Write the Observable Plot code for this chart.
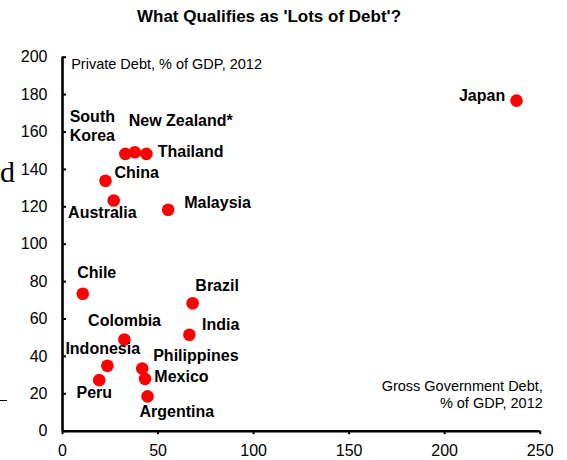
<!DOCTYPE html>
<html>
<head>
<meta charset="utf-8">
<script src="https://cdn.jsdelivr.net/npm/d3@7"></script>
<script src="https://cdn.jsdelivr.net/npm/@observablehq/plot@0.6"></script>
<style>
  body { margin: 0; background: #fff; font-family: "Liberation Sans", Arial, sans-serif; color: #000; }
  #wrap { position: relative; width: 567px; height: 460px; overflow: hidden; background: #fff; }
  #title { width: 538px; height: 34px; line-height: 34px; text-align: center; font-weight: bold; font-size: 17px; color: #000; }
  #chart svg { display: block; }
  .art-d { position: absolute; left: 0px; top: 157px; font-family: "Liberation Serif", "Times New Roman", serif; font-size: 30px; line-height: 30px; color: #000; }
  .art-dash { position: absolute; left: 0; top: 400px; width: 7px; height: 1px; background: #000; }
</style>
</head>
<body>
<div id="wrap">
  <div id="title">What Qualifies as 'Lots of Debt'?</div>
  <div id="chart"></div>
  <span class="art-d">d</span>
  <div class="art-dash"></div>
</div>
<script>
// ---- Data ----
const countries = ["Japan", "South Korea", "New Zealand*", "Thailand", "China", "Australia", "Malaysia", "Chile", "Brazil", "India", "Colombia", "Indonesia", "Philippines", "Mexico", "Peru", "Argentina"];
const labels = ["Japan", "South\nKorea", "New Zealand*", "Thailand", "China", "Australia", "Malaysia", "Chile", "Brazil", "India", "Colombia", "Indonesia", "Philippines", "Mexico", "Peru", "Argentina"];
const govDebt = [237.6, 32.9, 37.8, 43.9, 22.5, 26.8, 55.3, 10.6, 68.1, 66.4, 32.4, 23.5, 41.7, 43.2, 19.2, 44.5];
const privateDebt = [176.8, 148.3, 149.2, 148.3, 133.9, 123.4, 118.4, 73.5, 68.4, 51.6, 49.0, 35.0, 33.5, 28.0, 27.3, 18.6];
const xTicks = [0, 50, 100, 150, 200, 250];
const yTicks = [0, 20, 40, 60, 80, 100, 120, 140, 160, 180, 200];
const yTitle = "Private Debt, % of GDP, 2012";
const xTitle = "Gross Government Debt,\n% of GDP, 2012";

// ---- Label placement (pixel offsets from each dot) ----
const labelPlacement = [
  [-11.3, -6, "end"], [-55.7, -28.8, "start"], [-6, -32.7, "start"], [11.3, -3.3, "start"],
  [9, -8.6, "start"], [-45.6, 11.7, "start"], [16, -8.3, "start"], [-5.6, -22, "start"],
  [2.7, -18.7, "start"], [12.7, -11, "start"], [-36.3, -19.3, "start"], [-42, -18, "start"],
  [11, -13.7, "start"], [9.3, -3.3, "start"], [-22.7, 11.6, "start"], [-8, 14.7, "start"]
];

const rows = countries.map((c, i) => ({country: c, label: labels[i], gov: govDebt[i], priv: privateDebt[i]}));

const labelMarks = rows.map((r, i) => Plot.text([r], {
  x: "gov", y: "priv", text: "label",
  dx: labelPlacement[i][0], dy: labelPlacement[i][1],
  textAnchor: labelPlacement[i][2], lineAnchor: "middle", lineHeight: 1.19,
  fontSize: 16, fontWeight: "bold", fill: "#000"
}));

const chart = Plot.plot({
  width: 567,
  height: 426,
  marginLeft: 62,
  marginRight: 27.3,
  marginTop: 22.7,
  marginBottom: 29.3,
  style: {fontFamily: "'Liberation Sans', Arial, sans-serif", color: "#000", background: "#fff", overflow: "visible"},
  x: {domain: [0, 250]},
  y: {domain: [0, 200]},
  marks: [
    Plot.axisY(yTicks, {anchor: "left", tickSize: 4, dx: 4, tickPadding: 15, fontSize: 16, strokeWidth: 2, label: null, tickFormat: d => String(d)}),
    Plot.axisX(xTicks, {anchor: "bottom", tickSize: 3.5, tickPadding: 10.2, fontSize: 16, strokeWidth: 2, label: null, tickFormat: d => String(d)}),
    Plot.ruleX([0], {stroke: "#000", strokeWidth: 2.6}),
    Plot.ruleY([0], {stroke: "#000", strokeWidth: 2.6}),
    Plot.text([yTitle], {frameAnchor: "top-left", dx: 8.7, dy: 7.3, textAnchor: "start", lineAnchor: "middle", fontSize: 14.5, fill: "#000"}),
    Plot.text([xTitle], {frameAnchor: "bottom-right", dx: 2.6, dy: -37, textAnchor: "end", lineAnchor: "middle", lineHeight: 1.19, fontSize: 14.5, fill: "#000"}),
    Plot.dot(rows, {x: "gov", y: "priv", r: 6.3, fill: "#ff0000", stroke: "none"}),
    ...labelMarks
  ]
});
document.getElementById("chart").appendChild(chart);
</script>
</body>
</html>
